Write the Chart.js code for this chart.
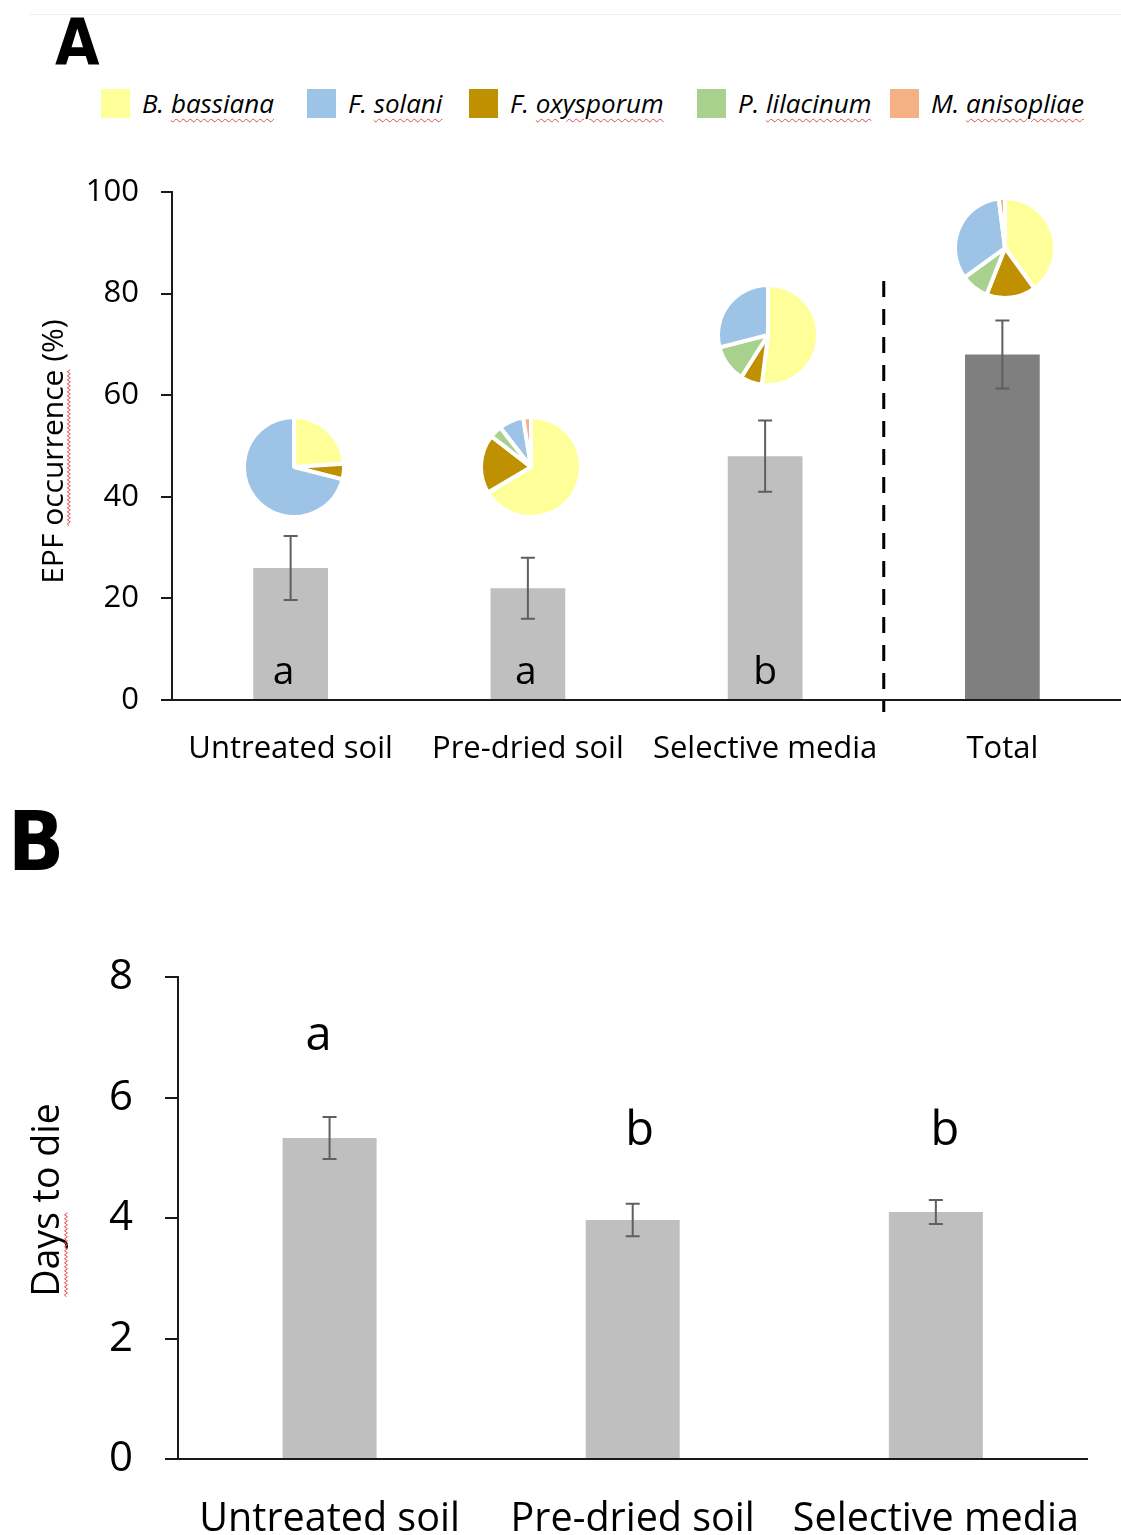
<!DOCTYPE html>
<html>
<head>
<meta charset="utf-8">
<script src="https://cdn.jsdelivr.net/npm/chart.js@4.4.1/dist/chart.umd.min.js"></script>
<style>
  html, body { margin: 0; padding: 0; background: #fff; }
  body { width: 1121px; height: 1535px; position: relative; overflow: hidden; font-family: "Open Sans", sans-serif; }
  .panel-letter { position: absolute; font-family: "DejaVu Sans Condensed", "DejaVu Sans"; font-weight: bold; color: #000; line-height: 1; }
  #topRule { position: absolute; left: 30px; top: 14px; width: 1091px; height: 1px; background: #efefef; }
  .lg-item { position: absolute; top: 88px; height: 30px; display: flex; align-items: center; white-space: nowrap; }
  .sw { width: 29px; height: 29px; margin-right: 12px; flex: none; }
  .lg-text { font-style: italic; font-size: 26px; color: #000; }
  .lg-text span { text-decoration: underline wavy #e05050; text-decoration-thickness: 1px; text-underline-offset: 5px; }
  .box { position: absolute; left: 0; }
  .pie { position: absolute; }
</style>
</head>
<body>
<div id="topRule"></div>
<div class="panel-letter" style="left:55px; top:11px; font-size:64px;">A</div>
<div class="panel-letter" style="left:8px; top:801px; font-size:82px;">B</div>
<div id="legend"></div>

<div class="box" id="boxA" style="top:150px; width:1121px; height:630px;"><canvas id="chartA"></canvas></div>
<div class="box" id="boxB" style="top:920px; width:1121px; height:615px;"><canvas id="chartB"></canvas></div>

<script>
// ---------- Panel A: EPF occurrence by isolation method ----------
const methodsA = ['Untreated soil', 'Pre-dried soil', 'Selective media', 'Total'];
const occurrence = [26, 22, 48, 68];
const occurrenceSE = [6.3, 6.0, 7.0, 6.7];
const occurrenceLetters = ['a', 'a', 'b', ''];
const ticksA = [0, 20, 40, 60, 80, 100];

// Species composition of the isolates for each method (%)
const speciesLegend = ['B. bassiana', 'F. solani', 'F. oxysporum', 'P. lilacinum', 'M. anisopliae'];
const bBassiana   = [24, 66.5, 52, 40];
const fSolani     = [71, 8, 29, 33];
const fOxysporum  = [5, 19, 7, 16];
const pLilacinum  = [0, 4, 12, 9];
const mAnisopliae = [0, 2.5, 0, 2];

// ---------- Panel B: days to die ----------
const methodsB = ['Untreated soil', 'Pre-dried soil', 'Selective media'];
const daysToDie = [5.33, 3.97, 4.10];
const daysSE = [0.35, 0.27, 0.20];
const daysLetters = ['a', 'b', 'b'];
const ticksB = [0, 2, 4, 6, 8];

// ---------- styling / layout ----------
const speciesColors = {
  'B. bassiana': '#FFFF99',
  'F. solani': '#9DC3E6',
  'F. oxysporum': '#BF9000',
  'P. lilacinum': '#A9D18E',
  'M. anisopliae': '#F4B183'
};
// vertical placement of each pie centre, in axis units of panel A
const pieLevels = [45.8, 45.8, 71.9, 89.0];
const pieSize = 104;
const letterLevelsA = [3.1, 3.1, 3.1, 0];
const letterLevelsB = [6.79, 5.21, 5.21];
const letterShiftA = [-7, -2, 0, 0];
const letterShiftB = [-11, 7, 9];
const separatorAt = 2.5;
const separatorTop = 82.5;

Chart.defaults.font.family = '"Open Sans", sans-serif';
Chart.defaults.color = '#000';
Chart.defaults.animation = false;

// legend (HTML)
const legendEl = document.getElementById('legend');
const legendLeft = [101, 307, 469, 697, 890];
speciesLegend.forEach((name, i) => {
  const [genus, epithet] = name.split(' ');
  const item = document.createElement('div');
  item.className = 'lg-item';
  item.style.left = legendLeft[i] + 'px';
  item.innerHTML = '<div class="sw" style="background:' + speciesColors[name] + '"></div>' +
    '<div class="lg-text">' + genus + ' <span>' + epithet + '</span></div>';
  legendEl.appendChild(item);
});

// error bars drawn from the SE arrays
function errorBarPlugin(errors) {
  return {
    id: 'errorBars',
    afterDatasetsDraw(chart) {
      const { ctx, scales: { y } } = chart;
      const meta = chart.getDatasetMeta(0);
      const values = chart.data.datasets[0].data;
      ctx.save();
      ctx.strokeStyle = '#5f5f5f';
      ctx.lineWidth = 2;
      meta.data.forEach((bar, i) => {
        const top = y.getPixelForValue(values[i] + errors[i]);
        const bot = y.getPixelForValue(values[i] - errors[i]);
        ctx.beginPath();
        ctx.moveTo(bar.x, top); ctx.lineTo(bar.x, bot);
        ctx.moveTo(bar.x - 7, top); ctx.lineTo(bar.x + 7, top);
        ctx.moveTo(bar.x - 7, bot); ctx.lineTo(bar.x + 7, bot);
        ctx.stroke();
      });
      ctx.restore();
    }
  };
}

// significance letters
function letterPlugin(letters, levels, shifts, size) {
  return {
    id: 'sigLetters',
    afterDatasetsDraw(chart) {
      const { ctx, scales: { x, y } } = chart;
      ctx.save();
      ctx.fillStyle = '#000';
      ctx.font = size + 'px "Open Sans", sans-serif';
      ctx.textAlign = 'center';
      ctx.textBaseline = 'alphabetic';
      letters.forEach((t, i) => {
        if (!t) return;
        ctx.fillText(t, x.getPixelForValue(i) + shifts[i], y.getPixelForValue(levels[i]));
      });
      ctx.restore();
    }
  };
}

// rotated axis title with a spell-check style wavy underline under one word
function axisTitlePlugin(text, flagged, size, centerX, level) {
  return {
    id: 'axisTitle',
    afterDraw(chart) {
      const { ctx, scales: { y } } = chart;
      const cy = y.getPixelForValue(level);
      ctx.save();
      ctx.translate(centerX, cy);
      ctx.rotate(-Math.PI / 2);
      ctx.font = size + 'px "Open Sans", sans-serif';
      ctx.fillStyle = '#000';
      ctx.textAlign = 'left';
      ctx.textBaseline = 'alphabetic';
      const w = ctx.measureText(text).width;
      const base = size * 0.36;
      ctx.fillText(text, -w / 2, base);
      const idx = text.indexOf(flagged);
      const x0 = -w / 2 + ctx.measureText(text.slice(0, idx)).width;
      const x1 = x0 + ctx.measureText(flagged).width;
      const uy = base + size * 0.2;
      ctx.strokeStyle = '#e05050';
      ctx.lineWidth = 1;
      ctx.beginPath();
      let up = true;
      ctx.moveTo(x0, uy);
      for (let px = x0 + 2; px <= x1; px += 2) {
        ctx.lineTo(px, uy + (up ? -1.5 : 1.5));
        up = !up;
      }
      ctx.stroke();
      ctx.restore();
    }
  };
}

const separatorPlugin = {
  id: 'separator',
  afterDraw(chart) {
    const { ctx, scales: { x, y } } = chart;
    const px = x.getPixelForValue(separatorAt);
    ctx.save();
    ctx.strokeStyle = '#000';
    ctx.lineWidth = 3;
    ctx.setLineDash([16, 12]);
    ctx.beginPath();
    ctx.moveTo(px, y.getPixelForValue(separatorTop));
    ctx.lineTo(px, y.getPixelForValue(0) + 12);
    ctx.stroke();
    ctx.restore();
  }
};

function fixedTicks(values) {
  return (scale) => { scale.ticks = values.map(v => ({ value: v })); };
}

const chartA = new Chart(document.getElementById('chartA'), {
  type: 'bar',
  data: {
    labels: methodsA,
    datasets: [{
      data: occurrence,
      backgroundColor: ['#BFBFBF', '#BFBFBF', '#BFBFBF', '#7F7F7F'],
      barPercentage: 0.315,
      categoryPercentage: 1
    }]
  },
  options: {
    responsive: true,
    maintainAspectRatio: false,
    devicePixelRatio: 1,
    layout: { padding: { top: 42, left: 0, right: 0, bottom: 0 } },
    plugins: { legend: { display: false }, tooltip: { enabled: false } },
    scales: {
      x: {
        grid: { display: false, drawTicks: false },
        border: { display: true, color: '#1a1a1a', width: 2 },
        ticks: { font: { size: 31 }, padding: 31, maxRotation: 0, autoSkip: false },
        afterFit: (s) => { s.height = 80; }
      },
      y: {
        min: 0, max: 100,
        afterBuildTicks: fixedTicks(ticksA),
        grid: { drawOnChartArea: false, drawTicks: true, tickLength: 11, color: '#1a1a1a', lineWidth: 2 },
        border: { display: true, color: '#1a1a1a', width: 2 },
        ticks: { font: { size: 31 }, padding: 22 },
        afterFit: (s) => { s.width = 172; }
      }
    }
  },
  plugins: [
    errorBarPlugin(occurrenceSE),
    letterPlugin(occurrenceLetters, letterLevelsA, letterShiftA, 39),
    separatorPlugin,
    axisTitlePlugin('EPF occurrence (%)', 'occurrence', 30, 52, 48.9)
  ]
});

// composition pies above each bar
const boxA = document.getElementById('boxA');
methodsA.forEach((m, i) => {
  const order = ['B. bassiana', 'F. oxysporum', 'P. lilacinum', 'F. solani', 'M. anisopliae'];
  const shares = [bBassiana[i], fOxysporum[i], pLilacinum[i], fSolani[i], mAnisopliae[i]];
  const cx = chartA.scales.x.getPixelForValue(i) + 3;
  const cy = chartA.scales.y.getPixelForValue(pieLevels[i]);
  const holder = document.createElement('div');
  holder.className = 'pie';
  holder.style.left = (cx - pieSize / 2) + 'px';
  holder.style.top = (cy - pieSize / 2) + 'px';
  holder.style.width = pieSize + 'px';
  holder.style.height = pieSize + 'px';
  const cv = document.createElement('canvas');
  cv.width = pieSize; cv.height = pieSize;
  holder.appendChild(cv);
  boxA.appendChild(holder);
  new Chart(cv, {
    type: 'pie',
    data: {
      labels: order,
      datasets: [{
        data: shares,
        backgroundColor: order.map(n => speciesColors[n]),
        borderColor: '#ffffff',
        borderWidth: 4
      }]
    },
    options: {
      responsive: false,
      devicePixelRatio: 1,
      layout: { padding: 0 },
      plugins: { legend: { display: false }, tooltip: { enabled: false } }
    }
  });
});

const chartB = new Chart(document.getElementById('chartB'), {
  type: 'bar',
  data: {
    labels: methodsB,
    datasets: [{
      data: daysToDie,
      backgroundColor: '#BFBFBF',
      barPercentage: 0.31,
      categoryPercentage: 1
    }]
  },
  options: {
    responsive: true,
    maintainAspectRatio: false,
    devicePixelRatio: 1,
    layout: { padding: { top: 20, left: 0, right: 31, bottom: 0 } },
    plugins: { legend: { display: false }, tooltip: { enabled: false } },
    scales: {
      x: {
        grid: { display: false, drawTicks: false },
        border: { display: true, color: '#1a1a1a', width: 2 },
        ticks: { font: { size: 39.5 }, padding: 37, maxRotation: 0, autoSkip: false },
        afterFit: (s) => { s.height = 76; }
      },
      y: {
        min: 0, max: 8,
        afterBuildTicks: fixedTicks(ticksB),
        grid: { drawOnChartArea: false, drawTicks: true, tickLength: 13, color: '#1a1a1a', lineWidth: 2 },
        border: { display: true, color: '#1a1a1a', width: 2 },
        ticks: { font: { size: 42 }, padding: 32 },
        afterFit: (s) => { s.width = 178; }
      }
    }
  },
  plugins: [
    errorBarPlugin(daysSE),
    letterPlugin(daysLetters, letterLevelsB, letterShiftB, 47),
    axisTitlePlugin('Days to die', 'Days', 37.5, 45, 4.3)
  ]
});
</script>
</body>
</html>
